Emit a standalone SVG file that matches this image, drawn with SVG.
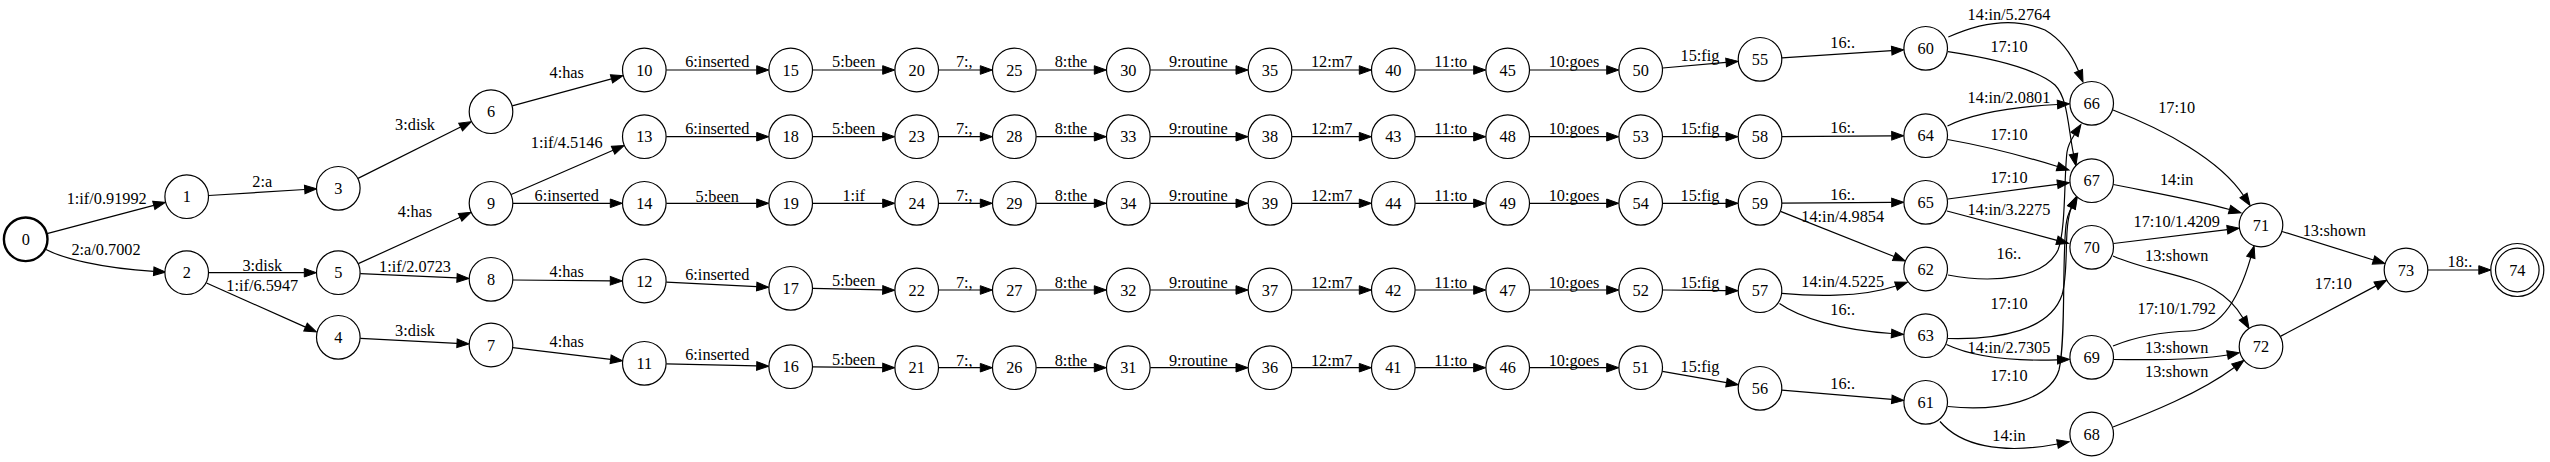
<svg xmlns="http://www.w3.org/2000/svg" width="2550" height="462" viewBox="0 0 2550 462">
<style>
text{font-family:"Liberation Serif","Times New Roman",serif;font-size:16.3px;text-anchor:middle;fill:#000}
.n circle{fill:#fff;stroke:#000;stroke-width:1.2}
.e path{fill:none;stroke:#000;stroke-width:1.2;marker-end:url(#a)}
</style>
<defs>
<marker id="a" markerUnits="userSpaceOnUse" markerWidth="12" markerHeight="8.6" viewBox="0 0 12 8.6" refX="0" refY="4.3" orient="auto" overflow="visible"><path d="M0,0 L12,4.3 L0,8.6 z" fill="#000" stroke="#000" stroke-width="1"/></marker>
</defs>
<rect width="2550" height="462" fill="#fff"/>
<g id="edges" class="e">
<path d="M47,233.7 L153.8,205.4"/>
<path d="M46,249.5 C62,258 100,268 153.7,271.3"/>
<path d="M208.7,195.5 L304.7,189.5"/>
<path d="M208.7,272.7 L304.3,272.7"/>
<path d="M206.5,283 L305.5,327.1"/>
<path d="M358,178.4 L460.6,127"/>
<path d="M358.3,263.6 L460.1,217.3"/>
<path d="M360.3,273.6 L457,277.9"/>
<path d="M360.3,338.4 L457,343.3"/>
<path d="M512.2,105.9 L611.5,78.9"/>
<path d="M511.2,194.5 L613.1,150.3"/>
<path d="M513,203.3 L610.3,203.3"/>
<path d="M513,280 L610.3,280.8"/>
<path d="M512.8,347.6 L610.6,359.3"/>
<path d="M666.3,70 L756.7,70"/>
<path d="M666.3,136.7 L756.7,136.7"/>
<path d="M666.3,203.3 L756.7,203.3"/>
<path d="M666.3,282.1 L756.7,286.6"/>
<path d="M666.3,363.8 L756.7,365.9"/>
<path d="M812.7,70 L882.7,70"/>
<path d="M812.7,136.7 L882.7,136.7"/>
<path d="M812.7,203.3 L882.7,203.3"/>
<path d="M812.7,288.4 L882.7,289.9"/>
<path d="M812.7,366.8 L882.7,367.6"/>
<path d="M938.7,70 L980.3,70"/>
<path d="M938.7,136.7 L980.3,136.7"/>
<path d="M938.7,203.3 L980.3,203.3"/>
<path d="M938.7,290 L980.3,290"/>
<path d="M938.7,367.7 L980.3,367.7"/>
<path d="M1036.3,70 L1094.3,70"/>
<path d="M1036.3,136.7 L1094.3,136.7"/>
<path d="M1036.3,203.3 L1094.3,203.3"/>
<path d="M1036.3,290 L1094.3,290"/>
<path d="M1036.3,367.7 L1094.3,367.7"/>
<path d="M1150.3,70 L1236,70"/>
<path d="M1150.3,136.7 L1236,136.7"/>
<path d="M1150.3,203.3 L1236,203.3"/>
<path d="M1150.3,290 L1236,290"/>
<path d="M1150.3,367.7 L1236,367.7"/>
<path d="M1292,70 L1359.3,70"/>
<path d="M1292,136.7 L1359.3,136.7"/>
<path d="M1292,203.3 L1359.3,203.3"/>
<path d="M1292,290 L1359.3,290"/>
<path d="M1292,367.7 L1359.3,367.7"/>
<path d="M1415.3,70 L1473.7,70"/>
<path d="M1415.3,136.7 L1473.7,136.7"/>
<path d="M1415.3,203.3 L1473.7,203.3"/>
<path d="M1415.3,290 L1473.7,290"/>
<path d="M1415.3,367.7 L1473.7,367.7"/>
<path d="M1529.7,70 L1606.7,70"/>
<path d="M1529.7,136.7 L1606.7,136.7"/>
<path d="M1529.7,203.3 L1606.7,203.3"/>
<path d="M1529.7,290 L1606.7,290"/>
<path d="M1529.7,367.7 L1606.7,367.7"/>
<path d="M1662.6,68 L1726.1,62.4"/>
<path d="M1662.7,136.7 L1726,136.7"/>
<path d="M1662.7,203.3 L1726,203.3"/>
<path d="M1662.7,290 L1726,290.6"/>
<path d="M1662.4,371.4 L1726.5,382.6"/>
<path d="M1782,57.9 L1891.7,50.6"/>
<path d="M1782,136.6 L1891.7,135.8"/>
<path d="M1782,203.2 L1891.7,202.4"/>
<path d="M1780.5,211.4 L1894.1,256.5"/>
<path d="M1781.7,293.3 C1810,296 1860,298 1896,286"/>
<path d="M1779.5,303.5 C1800,318 1840,330 1891.5,333.5"/>
<path d="M1781.9,390.2 L1891.8,399.4"/>
<path d="M1948.3,37 C1975,25 2010,15 2045,30 C2062,40 2072,55 2078.5,71"/>
<path d="M1948,51.7 C1990,58 2035,68 2055,85 C2068,98 2068,128 2073.5,154"/>
<path d="M1947.5,126 C1980,110 2030,106 2057.5,104.5"/>
<path d="M1947.5,139.5 C1990,147 2030,158 2057.5,166.5"/>
<path d="M1948,199 L2057.5,184.3"/>
<path d="M1947,211 L2057,240.3"/>
<path d="M1948,275 C1995,284 2045,278 2058,250 C2066,230 2064,175 2067,152 C2068,145 2071,140 2074.5,134.5"/>
<path d="M1948,338.5 C2000,340 2050,330 2062,295 C2068,275 2065,240 2068,222 C2069,215 2069.5,212 2071.5,207.5"/>
<path d="M1948,406.5 C2000,412 2050,400 2059,370 C2066,340 2062,260 2066,225 C2067,217 2069,212 2071.5,207.5"/>
<path d="M1946.5,344.5 C1975,358 2020,361 2057.5,359.8"/>
<path d="M1940,421.5 C1960,445 2000,455 2057.5,444"/>
<path d="M2113,110 C2165,130 2220,160 2243.5,195.5"/>
<path d="M2113.3,184.5 C2150,192 2200,201 2229.5,209.5"/>
<path d="M2113.5,243.5 L2227.3,229.7"/>
<path d="M2113,256 C2150,272 2190,275 2215,290 C2230,299 2237.5,308.5 2243,318"/>
<path d="M2113,346 C2135,337 2160,332 2190,331 C2222,330 2240,295 2250.8,257.4"/>
<path d="M2113.5,359.5 C2150,360 2200,360 2227.5,355"/>
<path d="M2113,427 C2150,413 2200,393 2234.3,367.5"/>
<path d="M2282,231.5 L2373.5,260"/>
<path d="M2280.4,336.4 L2376,285.9"/>
<path d="M2428,270 L2478.8,270"/>
</g>
<g id="edge-labels">
<text x="106.7" y="204">1:if/0.91992</text>
<text x="106" y="254.5">2:a/0.7002</text>
<text x="262.3" y="186.5">2:a</text>
<text x="262.3" y="270.5">3:disk</text>
<text x="262.3" y="291.2">1:if/6.5947</text>
<text x="415" y="129.5">3:disk</text>
<text x="415" y="216.5">4:has</text>
<text x="415" y="271.5">1:if/2.0723</text>
<text x="415" y="335.5">3:disk</text>
<text x="566.7" y="78.2">4:has</text>
<text x="566.7" y="148.2">1:if/4.5146</text>
<text x="566.7" y="201.2">6:inserted</text>
<text x="566.7" y="277.2">4:has</text>
<text x="566.7" y="347.2">4:has</text>
<text x="717.3" y="67.2">6:inserted</text>
<text x="717.3" y="133.8">6:inserted</text>
<text x="717.3" y="201.5">5:been</text>
<text x="717.3" y="279.5">6:inserted</text>
<text x="717.3" y="359.8">6:inserted</text>
<text x="853.7" y="67.2">5:been</text>
<text x="853.7" y="133.8">5:been</text>
<text x="853.7" y="201.2">1:if</text>
<text x="853.7" y="285.5">5:been</text>
<text x="853.7" y="364.8">5:been</text>
<text x="964.3" y="67.2">7:,</text>
<text x="964.3" y="133.8">7:,</text>
<text x="964.3" y="201.2">7:,</text>
<text x="964.3" y="288.2">7:,</text>
<text x="964.3" y="365.5">7:,</text>
<text x="1071" y="67.2">8:the</text>
<text x="1071" y="133.8">8:the</text>
<text x="1071" y="201.2">8:the</text>
<text x="1071" y="288.2">8:the</text>
<text x="1071" y="365.5">8:the</text>
<text x="1198.3" y="67.2">9:routine</text>
<text x="1198.3" y="133.8">9:routine</text>
<text x="1198.3" y="201.2">9:routine</text>
<text x="1198.3" y="288.2">9:routine</text>
<text x="1198.3" y="365.5">9:routine</text>
<text x="1331.7" y="67.2">12:m7</text>
<text x="1331.7" y="133.8">12:m7</text>
<text x="1331.7" y="201.2">12:m7</text>
<text x="1331.7" y="288.2">12:m7</text>
<text x="1331.7" y="365.5">12:m7</text>
<text x="1450.7" y="67.2">11:to</text>
<text x="1450.7" y="133.8">11:to</text>
<text x="1450.7" y="201.2">11:to</text>
<text x="1450.7" y="288.2">11:to</text>
<text x="1450.7" y="365.5">11:to</text>
<text x="1574" y="67.2">10:goes</text>
<text x="1574" y="133.8">10:goes</text>
<text x="1574" y="201.2">10:goes</text>
<text x="1574" y="288.2">10:goes</text>
<text x="1574" y="365.5">10:goes</text>
<text x="1700" y="60.5">15:fig</text>
<text x="1700" y="133.8">15:fig</text>
<text x="1700" y="201.2">15:fig</text>
<text x="1700" y="288.2">15:fig</text>
<text x="1700" y="371.5">15:fig</text>
<text x="1842.7" y="48.2">16:.</text>
<text x="1842.7" y="133.2">16:.</text>
<text x="1842.7" y="199.8">16:.</text>
<text x="1842.7" y="221.5">14:in/4.9854</text>
<text x="1842.7" y="287.2">14:in/4.5225</text>
<text x="1842.7" y="314.8">16:.</text>
<text x="1842.7" y="388.8">16:.</text>
<text x="2009" y="19.5">14:in/5.2764</text>
<text x="2009" y="52.2">17:10</text>
<text x="2009" y="102.8">14:in/2.0801</text>
<text x="2009" y="139.8">17:10</text>
<text x="2009" y="183.2">17:10</text>
<text x="2009" y="214.8">14:in/3.2275</text>
<text x="2009" y="258.8">16:.</text>
<text x="2009" y="308.8">17:10</text>
<text x="2009" y="353.2">14:in/2.7305</text>
<text x="2009" y="381.2">17:10</text>
<text x="2009" y="440.5">14:in</text>
<text x="2176.7" y="112.8">17:10</text>
<text x="2176.7" y="184.5">14:in</text>
<text x="2176.7" y="226.5">17:10/1.4209</text>
<text x="2176.7" y="260.5">13:shown</text>
<text x="2176.7" y="313.8">17:10/1.792</text>
<text x="2176.7" y="353.2">13:shown</text>
<text x="2176.7" y="376.5">13:shown</text>
<text x="2334.3" y="235.5">13:shown</text>
<text x="2333.3" y="288.8">17:10</text>
<text x="2460" y="267.2">18:.</text>
</g>
<g id="n0" class="n"><circle cx="25.7" cy="239.3" r="21.8" stroke-width="2.4" style="stroke-width:2.4"/><text x="25.7" y="244.8">0</text></g>
<g id="n1" class="n"><circle cx="186.7" cy="196.7" r="21.8"/><text x="186.7" y="202.2">1</text></g>
<g id="n2" class="n"><circle cx="186.7" cy="272.7" r="21.8"/><text x="186.7" y="278.2">2</text></g>
<g id="n3" class="n"><circle cx="338.3" cy="188.3" r="21.8"/><text x="338.3" y="193.8">3</text></g>
<g id="n4" class="n"><circle cx="338.3" cy="337.3" r="21.8"/><text x="338.3" y="342.8">4</text></g>
<g id="n5" class="n"><circle cx="338.3" cy="272.7" r="21.8"/><text x="338.3" y="278.2">5</text></g>
<g id="n6" class="n"><circle cx="491" cy="111.7" r="21.8"/><text x="491" y="117.2">6</text></g>
<g id="n7" class="n"><circle cx="491" cy="345" r="21.8"/><text x="491" y="350.5">7</text></g>
<g id="n8" class="n"><circle cx="491" cy="279.3" r="21.8"/><text x="491" y="284.8">8</text></g>
<g id="n9" class="n"><circle cx="491" cy="203.3" r="21.8"/><text x="491" y="208.8">9</text></g>
<g id="n10" class="n"><circle cx="644.3" cy="70" r="21.8"/><text x="644.3" y="75.5">10</text></g>
<g id="n11" class="n"><circle cx="644.3" cy="363.3" r="21.8"/><text x="644.3" y="368.8">11</text></g>
<g id="n12" class="n"><circle cx="644.3" cy="281" r="21.8"/><text x="644.3" y="286.5">12</text></g>
<g id="n13" class="n"><circle cx="644.3" cy="136.7" r="21.8"/><text x="644.3" y="142.2">13</text></g>
<g id="n14" class="n"><circle cx="644.3" cy="203.3" r="21.8"/><text x="644.3" y="208.8">14</text></g>
<g id="n15" class="n"><circle cx="790.7" cy="70" r="21.8"/><text x="790.7" y="75.5">15</text></g>
<g id="n16" class="n"><circle cx="790.7" cy="366.7" r="21.8"/><text x="790.7" y="372.2">16</text></g>
<g id="n17" class="n"><circle cx="790.7" cy="288.3" r="21.8"/><text x="790.7" y="293.8">17</text></g>
<g id="n18" class="n"><circle cx="790.7" cy="136.7" r="21.8"/><text x="790.7" y="142.2">18</text></g>
<g id="n19" class="n"><circle cx="790.7" cy="203.3" r="21.8"/><text x="790.7" y="208.8">19</text></g>
<g id="n20" class="n"><circle cx="916.7" cy="70" r="21.8"/><text x="916.7" y="75.5">20</text></g>
<g id="n21" class="n"><circle cx="916.7" cy="367.7" r="21.8"/><text x="916.7" y="373.2">21</text></g>
<g id="n22" class="n"><circle cx="916.7" cy="290" r="21.8"/><text x="916.7" y="295.5">22</text></g>
<g id="n23" class="n"><circle cx="916.7" cy="136.7" r="21.8"/><text x="916.7" y="142.2">23</text></g>
<g id="n24" class="n"><circle cx="916.7" cy="203.3" r="21.8"/><text x="916.7" y="208.8">24</text></g>
<g id="n25" class="n"><circle cx="1014.3" cy="70" r="21.8"/><text x="1014.3" y="75.5">25</text></g>
<g id="n26" class="n"><circle cx="1014.3" cy="367.7" r="21.8"/><text x="1014.3" y="373.2">26</text></g>
<g id="n27" class="n"><circle cx="1014.3" cy="290" r="21.8"/><text x="1014.3" y="295.5">27</text></g>
<g id="n28" class="n"><circle cx="1014.3" cy="136.7" r="21.8"/><text x="1014.3" y="142.2">28</text></g>
<g id="n29" class="n"><circle cx="1014.3" cy="203.3" r="21.8"/><text x="1014.3" y="208.8">29</text></g>
<g id="n30" class="n"><circle cx="1128.3" cy="70" r="21.8"/><text x="1128.3" y="75.5">30</text></g>
<g id="n31" class="n"><circle cx="1128.3" cy="367.7" r="21.8"/><text x="1128.3" y="373.2">31</text></g>
<g id="n32" class="n"><circle cx="1128.3" cy="290" r="21.8"/><text x="1128.3" y="295.5">32</text></g>
<g id="n33" class="n"><circle cx="1128.3" cy="136.7" r="21.8"/><text x="1128.3" y="142.2">33</text></g>
<g id="n34" class="n"><circle cx="1128.3" cy="203.3" r="21.8"/><text x="1128.3" y="208.8">34</text></g>
<g id="n35" class="n"><circle cx="1270" cy="70" r="21.8"/><text x="1270" y="75.5">35</text></g>
<g id="n36" class="n"><circle cx="1270" cy="367.7" r="21.8"/><text x="1270" y="373.2">36</text></g>
<g id="n37" class="n"><circle cx="1270" cy="290" r="21.8"/><text x="1270" y="295.5">37</text></g>
<g id="n38" class="n"><circle cx="1270" cy="136.7" r="21.8"/><text x="1270" y="142.2">38</text></g>
<g id="n39" class="n"><circle cx="1270" cy="203.3" r="21.8"/><text x="1270" y="208.8">39</text></g>
<g id="n40" class="n"><circle cx="1393.3" cy="70" r="21.8"/><text x="1393.3" y="75.5">40</text></g>
<g id="n41" class="n"><circle cx="1393.3" cy="367.7" r="21.8"/><text x="1393.3" y="373.2">41</text></g>
<g id="n42" class="n"><circle cx="1393.3" cy="290" r="21.8"/><text x="1393.3" y="295.5">42</text></g>
<g id="n43" class="n"><circle cx="1393.3" cy="136.7" r="21.8"/><text x="1393.3" y="142.2">43</text></g>
<g id="n44" class="n"><circle cx="1393.3" cy="203.3" r="21.8"/><text x="1393.3" y="208.8">44</text></g>
<g id="n45" class="n"><circle cx="1507.7" cy="70" r="21.8"/><text x="1507.7" y="75.5">45</text></g>
<g id="n46" class="n"><circle cx="1507.7" cy="367.7" r="21.8"/><text x="1507.7" y="373.2">46</text></g>
<g id="n47" class="n"><circle cx="1507.7" cy="290" r="21.8"/><text x="1507.7" y="295.5">47</text></g>
<g id="n48" class="n"><circle cx="1507.7" cy="136.7" r="21.8"/><text x="1507.7" y="142.2">48</text></g>
<g id="n49" class="n"><circle cx="1507.7" cy="203.3" r="21.8"/><text x="1507.7" y="208.8">49</text></g>
<g id="n50" class="n"><circle cx="1640.7" cy="70" r="21.8"/><text x="1640.7" y="75.5">50</text></g>
<g id="n51" class="n"><circle cx="1640.7" cy="367.7" r="21.8"/><text x="1640.7" y="373.2">51</text></g>
<g id="n52" class="n"><circle cx="1640.7" cy="290" r="21.8"/><text x="1640.7" y="295.5">52</text></g>
<g id="n53" class="n"><circle cx="1640.7" cy="136.7" r="21.8"/><text x="1640.7" y="142.2">53</text></g>
<g id="n54" class="n"><circle cx="1640.7" cy="203.3" r="21.8"/><text x="1640.7" y="208.8">54</text></g>
<g id="n55" class="n"><circle cx="1760" cy="59.3" r="21.8"/><text x="1760" y="64.8">55</text></g>
<g id="n56" class="n"><circle cx="1760" cy="388.3" r="21.8"/><text x="1760" y="393.8">56</text></g>
<g id="n57" class="n"><circle cx="1760" cy="290.7" r="21.8"/><text x="1760" y="296.2">57</text></g>
<g id="n58" class="n"><circle cx="1760" cy="136.7" r="21.8"/><text x="1760" y="142.2">58</text></g>
<g id="n59" class="n"><circle cx="1760" cy="203.3" r="21.8"/><text x="1760" y="208.8">59</text></g>
<g id="n60" class="n"><circle cx="1925.7" cy="48.3" r="21.8"/><text x="1925.7" y="53.8">60</text></g>
<g id="n61" class="n"><circle cx="1925.7" cy="402.3" r="21.8"/><text x="1925.7" y="407.8">61</text></g>
<g id="n62" class="n"><circle cx="1925.7" cy="269" r="21.8"/><text x="1925.7" y="274.5">62</text></g>
<g id="n63" class="n"><circle cx="1925.7" cy="335.7" r="21.8"/><text x="1925.7" y="341.2">63</text></g>
<g id="n64" class="n"><circle cx="1925.7" cy="135.7" r="21.8"/><text x="1925.7" y="141.2">64</text></g>
<g id="n65" class="n"><circle cx="1925.7" cy="202.3" r="21.8"/><text x="1925.7" y="207.8">65</text></g>
<g id="n66" class="n"><circle cx="2091.7" cy="103.3" r="21.8"/><text x="2091.7" y="108.8">66</text></g>
<g id="n67" class="n"><circle cx="2091.7" cy="180.7" r="21.8"/><text x="2091.7" y="186.2">67</text></g>
<g id="n68" class="n"><circle cx="2091.7" cy="434" r="21.8"/><text x="2091.7" y="439.5">68</text></g>
<g id="n69" class="n"><circle cx="2091.7" cy="357.3" r="21.8"/><text x="2091.7" y="362.8">69</text></g>
<g id="n70" class="n"><circle cx="2091.7" cy="247.3" r="21.8"/><text x="2091.7" y="252.8">70</text></g>
<g id="n71" class="n"><circle cx="2261" cy="225" r="21.8"/><text x="2261" y="230.5">71</text></g>
<g id="n72" class="n"><circle cx="2261" cy="346.7" r="21.8"/><text x="2261" y="352.2">72</text></g>
<g id="n73" class="n"><circle cx="2406" cy="270" r="21.8"/><text x="2406" y="275.5">73</text></g>
<g id="n74" class="n"><circle cx="2517.3" cy="270" r="26.5"/><circle cx="2517.3" cy="270" r="21.8"/><text x="2517.3" y="275.5">74</text></g>
</svg>
